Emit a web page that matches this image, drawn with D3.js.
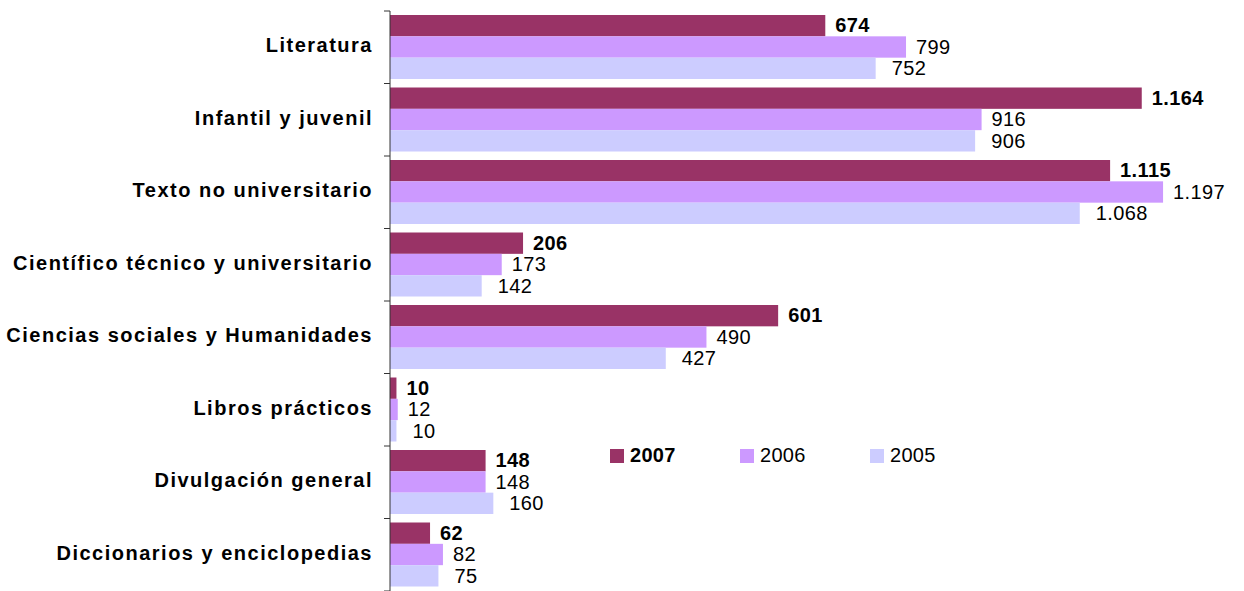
<!DOCTYPE html>
<html>
<head>
<meta charset="utf-8">
<script src="https://cdn.jsdelivr.net/npm/d3@7"></script>
<style>
  body { margin: 0; background: #fff; }
  svg { display: block; font-family: "Liberation Sans", Arial, sans-serif; }
</style>
</head>
<body>
<svg id="chart" width="1244" height="591"></svg>
<script>
// categories top to bottom
const categories = [
  "Literatura",
  "Infantil y juvenil",
  "Texto no universitario",
  "Científico técnico y universitario",
  "Ciencias sociales y Humanidades",
  "Libros prácticos",
  "Divulgación general",
  "Diccionarios y enciclopedias"
]
const years = ["2007", "2006", "2005"]
const values2007 = [674, 1164, 1115, 206, 601, 10, 148, 62]
const values2006 = [799, 916, 1197, 173, 490, 12, 148, 82]
const values2005 = [752, 906, 1068, 142, 427, 10, 160, 75]

const colors = {"2007": "#993366", "2006": "#CC99FF", "2005": "#CCCCFF"}
const labelGap = {"2007": 10, "2006": 10, "2005": 16}

const rows = categories.map((c, i) => ({
  name: c,
  vals: [
    {year: "2007", v: values2007[i]},
    {year: "2006", v: values2006[i]},
    {year: "2005", v: values2005[i]}
  ]
}))

const fmt = d3.formatLocale({decimal: ",", thousands: ".", grouping: [3], currency: ["", ""]}).format(",d")

const svg = d3.select("#chart")
const x = d3.scaleLinear().domain([0, 1200]).range([390, 1165])
const y0 = d3.scaleBand().domain(categories).range([11, 591])
const y1 = d3.scaleBand().domain(years).range([4, y0.bandwidth() - 4.5])

// bars
const groups = svg.append("g")
  .selectAll("g")
  .data(rows)
  .join("g")
  .attr("transform", d => `translate(0,${y0(d.name)})`)

groups.selectAll("rect")
  .data(d => d.vals)
  .join("rect")
  .attr("x", x(0))
  .attr("y", d => y1(d.year))
  .attr("width", d => x(d.v) - x(0))
  .attr("height", y1.bandwidth())
  .attr("fill", d => colors[d.year])

groups.selectAll("text")
  .data(d => d.vals)
  .join("text")
  .attr("x", d => x(d.v) + labelGap[d.year])
  .attr("y", d => y1(d.year) + y1.bandwidth() / 2)
  .attr("dy", "0.34em")
  .attr("font-size", 20)
  .attr("letter-spacing", 0.4)
  .attr("font-weight", d => d.year === "2007" ? "bold" : "normal")
  .attr("fill", "#000")
  .text(d => fmt(d.v))

// category axis
const axis = svg.append("g")
  .attr("transform", `translate(${x(0)},0)`)
  .call(d3.axisLeft(y0).tickSize(0).tickPadding(17))

axis.select(".domain").attr("stroke", "#333").attr("d", `M0,${y0.range()[0]}V${y0.range()[1]}`)
axis.selectAll("text")
  .attr("dy", "0.26em")
  .attr("font-size", 20)
  .attr("font-weight", "bold")
  .attr("letter-spacing", 1.5)
  .attr("font-family", "Liberation Sans, Arial, sans-serif")
  .attr("fill", "#000")

// ticks between categories
axis.append("g")
  .selectAll("line")
  .data(categories.map(c => y0(c)).concat([y0.range()[1]]))
  .join("line")
  .attr("x1", -6).attr("x2", 0)
  .attr("y1", d => d).attr("y2", d => d)
  .attr("stroke", "#333")

// legend
const legend = svg.append("g").attr("transform", "translate(610,449)")
const li = legend.selectAll("g")
  .data(years)
  .join("g")
  .attr("transform", (d, i) => `translate(${i * 130},0)`)
li.append("rect").attr("width", 14).attr("height", 14).attr("fill", d => colors[d])
li.append("text")
  .attr("x", 20).attr("y", 13)
  .attr("font-size", 20)
  .attr("letter-spacing", 0.3)
  .attr("font-weight", d => d === "2007" ? "bold" : "normal")
  .text(d => d)
</script>
</body>
</html>
